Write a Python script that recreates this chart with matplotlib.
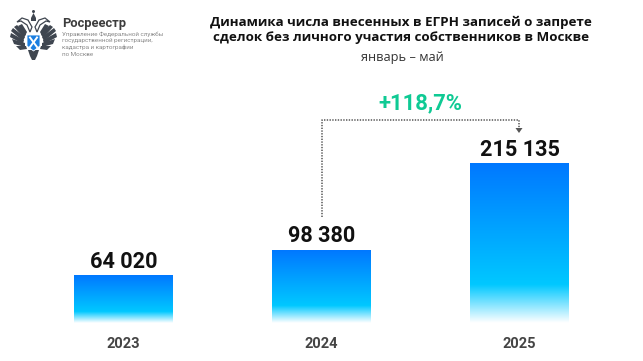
import numpy as np
import matplotlib
matplotlib.use("Agg")
import matplotlib.pyplot as plt
from matplotlib.colors import LinearSegmentedColormap
from matplotlib.patches import Polygon, Ellipse

years = ["2023", "2024", "2025"]
values = [64020, 98380, 215135]
value_labels = ["64 020", "98 380", "215 135"]
growth_label = "+118,7%"
title_lines = ["Динамика числа внесенных в ЕГРН записей о запрете",
               "сделок без личного участия собственников в Москве"]
subtitle = "январь – май"
org_name = "Росреестр"
org_lines = ["Управление Федеральной службы", "государственной регистрации,",
             "кадастра и картографии", "по Москве"]

W, H = 643, 361
plt.rcParams['font.family'] = ['Roboto', 'DejaVu Sans']
fig = plt.figure(figsize=(W/100, H/100), dpi=100, facecolor='white')

ov = fig.add_axes([0, 0, 1, 1]); ov.set_xlim(0, W); ov.set_ylim(H, 0); ov.axis('off')

base_px, top_px = 323, 83
scale = 159.5 / max(values)
ax = fig.add_axes([24.5/W, (H-base_px)/H, 594/W, (base_px-top_px)/H])
ax.patch.set_alpha(0)

grad = np.linspace(1, 0, 256).reshape(-1, 1)
cmap = LinearSegmentedColormap.from_list('b', [(0, '#ffffff'), (0.24, '#00c8ff'), (1, '#0078ff')])
for i, v in enumerate(values):
    ax.imshow(grad, extent=(i-0.25, i+0.25, 0, v), aspect='auto', cmap=cmap, vmin=0, vmax=1, zorder=2)
    ax.text(i, v + 3/scale, value_labels[i], ha='center', va='bottom', fontsize=15.6,
            fontweight='bold', color='#111111', zorder=3)
ax.set_xlim(-0.5, 2.5); ax.set_ylim(0, (base_px-top_px)/scale); ax.axis('off')

for i, y in enumerate(years):
    ov.text(123.5 + 198*i, 344, y, ha='center', va='center', fontsize=10.5, fontweight='bold', color='#444444')

ofont = ['Open Sans', 'DejaVu Sans']
ov.text(401, 22, title_lines[0], ha='center', va='center', fontsize=9.6, fontweight='bold', color='#111111', family=ofont)
ov.text(401, 37, title_lines[1], ha='center', va='center', fontsize=9.6, fontweight='bold', color='#111111', family=ofont)
ov.text(402, 58, subtitle, ha='center', va='center', fontsize=9.2, color='#333333', family=ofont)

ov.text(62, 23, org_name, ha='left', va='center', fontsize=9.3, fontweight='bold', color='#3c3c3c')
for k, t in enumerate(org_lines):
    ov.text(62, 34 + k*6.8, t, ha='left', va='center', fontsize=4.5, color='#8a8a8a')

ov.text(420, 103, growth_label, ha='center', va='center', fontsize=15.8, fontweight='bold', color='#0fca94')
ov.plot([321.5, 321.5, 519, 519], [217, 120, 120, 128], color='#555555', lw=1.1, ls=(0, (0.9, 0.9)), zorder=4)
ov.add_patch(Polygon([[515.5, 128], [522.5, 128], [519, 133]], closed=True, fc='#555555', ec='none', zorder=4))

# emblem: schematic double-headed eagle, mirrored about x=33.5
g = '#3f4650'
cx = 33.5
def mir(pts):
    return [[2*cx - x, y] for x, y in pts]
feathers = [
    [[27, 32], [22, 24], [18, 26], [25, 36]],
    [[26, 34], [17, 25], [14, 27], [24, 38]],
    [[25, 37], [13, 28], [11, 31], [23, 41]],
    [[24, 40], [11, 33], [10, 37], [23, 44]],
    [[25, 43], [12, 39], [14, 44], [25, 47]],
    [[26, 46], [16, 46], [20, 50], [27, 49]],
]
for f in feathers:
    ov.add_patch(Polygon(f, fc=g, ec='none'))
    ov.add_patch(Polygon(mir(f), fc=g, ec='none'))
neck = [[30, 32], [27, 25], [21, 21], [17, 22], [22, 18], [28, 20], [32, 27]]
ov.add_patch(Polygon(neck, fc='none', ec=g, lw=0.9))
ov.add_patch(Polygon(mir(neck), fc='none', ec=g, lw=0.9))
ov.add_patch(Polygon([[31, 18], [33.5, 13], [36, 18], [36, 21], [31, 21]], fc=g, ec='none'))
ov.add_patch(Ellipse((cx, 11.5), 3, 3, fc=g, ec='none'))
ov.add_patch(Polygon([[28, 50], [39, 50], [37, 56], [35, 60], [32, 60], [30, 56]], fc=g, ec='none'))
ov.add_patch(Polygon([[27, 35], [40, 35], [40, 46], [33.5, 51], [27, 46]], fc='#1a7ee0', ec='white', lw=0.6))
ov.plot([30, 37], [37.5, 47], color='white', lw=1.4)
ov.plot([37, 30], [37.5, 47], color='white', lw=1.4)

fig.savefig('out.png', dpi=100, facecolor='white')
